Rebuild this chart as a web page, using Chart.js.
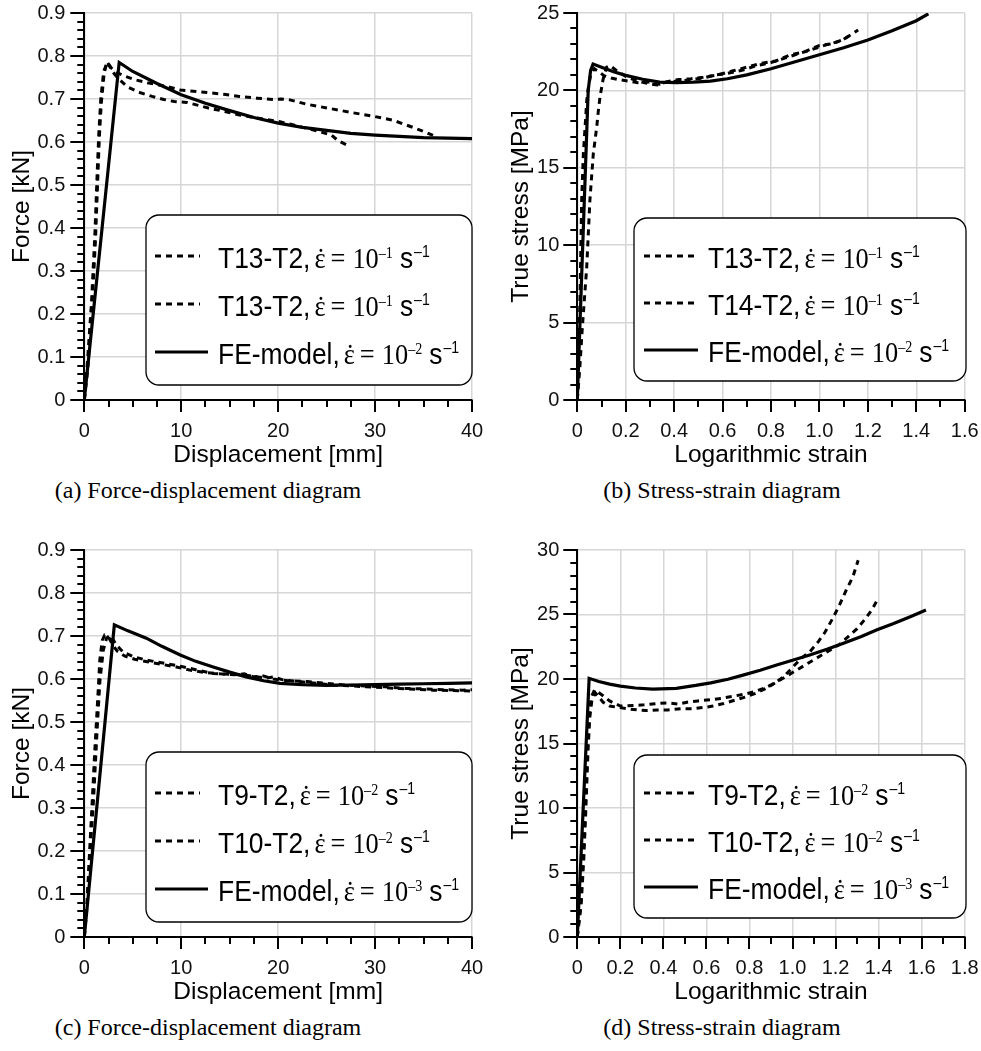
<!DOCTYPE html>
<html>
<head>
<meta charset="utf-8">
<script src="https://cdn.jsdelivr.net/npm/chart.js@4.4.1/dist/chart.umd.min.js"></script>
<style>
  body { margin: 0; background: #fff; width: 981px; height: 1051px; position: relative; overflow: hidden; }
  .panel { position: absolute; }
  .cap { position: absolute; text-align: center; font-family: 'Liberation Serif', 'Times New Roman', serif;
         font-size: 24px; line-height: 30px; color: #000; white-space: nowrap; }
</style>
</head>
<body>
<div class="panel" style="left:0;top:0"><canvas id="chartA" width="490" height="471"></canvas></div>
<div class="panel" style="left:490px;top:0"><canvas id="chartB" width="491" height="471"></canvas></div>
<div class="panel" style="left:0;top:537px"><canvas id="chartC" width="490" height="471"></canvas></div>
<div class="panel" style="left:490px;top:537px"><canvas id="chartD" width="491" height="471"></canvas></div>
<div class="cap" style="left:0;width:416px;top:475px">(a) Force-displacement diagram</div>
<div class="cap" style="left:490px;width:464px;top:475px">(b) Stress-strain diagram</div>
<div class="cap" style="left:0;width:416px;top:1012px">(c) Force-displacement diagram</div>
<div class="cap" style="left:490px;width:464px;top:1012px">(d) Stress-strain diagram</div>
<script>
// ---- (a) force-displacement, strain rate 10^-1
const aXTicks = [0, 10, 20, 30, 40];
const aYTicks = [0, 0.1, 0.2, 0.3, 0.4, 0.5, 0.6, 0.7, 0.8, 0.9];
const aLabels = ['T13-T2', 'T13-T2', 'FE-model'];
const aRates = ['–1', '–1', '–2'];
const aUpperX = [0, 0.3, 0.75, 1.1, 1.35, 1.5, 1.7, 2.0, 2.4, 2.8, 3.3, 4.1, 5.2, 6.5, 7.6, 8.7, 9.9, 11.8, 14.4, 16.0, 17.8, 19.5, 20.3, 21.2, 22.9, 25.3, 27.7, 29.8, 31.8, 33.9, 35.3, 36.3];
const aUpperY = [0, 0.08, 0.23, 0.39, 0.54, 0.62, 0.70, 0.765, 0.785, 0.772, 0.762, 0.754, 0.745, 0.738, 0.733, 0.728, 0.721, 0.717, 0.711, 0.706, 0.702, 0.699, 0.700, 0.698, 0.688, 0.678, 0.668, 0.660, 0.651, 0.634, 0.622, 0.612];
const aLowerX = [0, 0.35, 0.8, 1.15, 1.4, 1.55, 1.75, 2.05, 2.35, 2.9, 3.4, 4.4, 5.6, 7.0, 8.2, 9.3, 10.6, 12.8, 14.5, 16.0, 17.5, 18.8, 20.2, 21.5, 22.9, 24.6, 25.5, 26.2, 27.0];
const aLowerY = [0, 0.07, 0.22, 0.37, 0.52, 0.61, 0.69, 0.76, 0.787, 0.764, 0.750, 0.729, 0.716, 0.706, 0.699, 0.694, 0.692, 0.679, 0.671, 0.663, 0.657, 0.652, 0.647, 0.640, 0.632, 0.622, 0.616, 0.603, 0.594];
const aFeX = [0, 3.6, 5, 7.5, 10, 12.5, 15, 17.5, 20, 22.5, 25, 27.5, 30, 32.5, 35, 37.5, 40];
const aFeY = [0, 0.785, 0.764, 0.736, 0.710, 0.690, 0.673, 0.657, 0.644, 0.634, 0.627, 0.620, 0.616, 0.613, 0.610, 0.609, 0.608];

// ---- (b) stress-strain, strain rate 10^-1
const bXTicks = [0, 0.2, 0.4, 0.6, 0.8, 1, 1.2, 1.4, 1.6];
const bYTicks = [0, 5, 10, 15, 20, 25];
const bLabels = ['T13-T2', 'T14-T2', 'FE-model'];
const bRates = ['–1', '–1', '–2'];
const bT13X = [0, 0.004, 0.011, 0.018, 0.025, 0.032, 0.039, 0.045, 0.055, 0.07, 0.09, 0.11, 0.14, 0.17, 0.21, 0.25, 0.3, 0.34, 0.38, 0.42, 0.47, 0.52, 0.58, 0.64, 0.7, 0.76, 0.82, 0.88, 0.94, 1.0, 1.05, 1.1, 1.16];
const bT13Y = [0, 2.2, 6.4, 12.9, 15.9, 17.6, 19.35, 20.1, 21.0, 21.4, 21.2, 20.95, 20.8, 20.7, 20.6, 20.5, 20.55, 20.4, 20.6, 20.7, 20.75, 20.85, 21.0, 21.25, 21.5, 21.75, 21.9, 22.3, 22.5, 22.9, 23.0, 23.3, 23.9];
const bT14X = [0, 0.01, 0.02, 0.039, 0.052, 0.066, 0.08, 0.087, 0.094, 0.107, 0.121, 0.135, 0.16, 0.2, 0.25, 0.29, 0.33, 0.37, 0.42, 0.47, 0.52, 0.57, 0.62, 0.68, 0.74, 0.8, 0.86, 0.92, 0.98, 1.04, 1.09, 1.13];
const bT14Y = [0, 2, 4.5, 8.6, 12.9, 15.9, 17.6, 18.7, 19.6, 20.75, 21.5, 21.6, 21.3, 20.9, 20.6, 20.45, 20.35, 20.55, 20.6, 20.7, 20.8, 21.0, 21.1, 21.3, 21.6, 21.8, 22.1, 22.4, 22.7, 23.0, 23.2, 23.6];
const bFeX = [0, 0.045, 0.055, 0.065, 0.1, 0.15, 0.2, 0.27, 0.34, 0.41, 0.48, 0.55, 0.62, 0.7, 0.8, 0.9, 1.0, 1.1, 1.2, 1.3, 1.4, 1.45];
const bFeY = [0, 20.0, 21.3, 21.7, 21.5, 21.2, 20.97, 20.72, 20.54, 20.5, 20.53, 20.6, 20.75, 21.0, 21.4, 21.85, 22.3, 22.75, 23.25, 23.85, 24.5, 24.95];

// ---- (c) force-displacement, strain rate 10^-2
const cXTicks = [0, 10, 20, 30, 40];
const cYTicks = [0, 0.1, 0.2, 0.3, 0.4, 0.5, 0.6, 0.7, 0.8, 0.9];
const cLabels = ['T9-T2', 'T10-T2', 'FE-model'];
const cRates = ['–2', '–2', '–3'];
const cT9X = [0, 0.31, 0.59, 0.93, 1.2, 1.38, 1.62, 1.96, 2.3, 2.7, 3.3, 4.0, 5.05, 6.4, 8.1, 9.9, 11.6, 13.3, 15.0, 16.7, 17.5, 18.8, 19.5, 20.5, 22.2, 24.0, 25.7, 27.5, 29.1, 30.8, 32.5, 34.2, 36.0, 38.0, 40.0];
const cT9Y = [0, 0.079, 0.195, 0.311, 0.428, 0.505, 0.598, 0.667, 0.695, 0.702, 0.679, 0.663, 0.652, 0.644, 0.637, 0.630, 0.621, 0.613, 0.611, 0.609, 0.606, 0.602, 0.605, 0.598, 0.594, 0.590, 0.586, 0.584, 0.582, 0.580, 0.578, 0.576, 0.574, 0.573, 0.572];
const cT10X = [0, 0.28, 0.55, 0.85, 1.05, 1.2, 1.45, 1.6, 1.85, 2.1, 2.5, 2.9, 3.4, 4.2, 5.2, 6.5, 8.0, 9.5, 11.0, 12.5, 14.0, 15.5, 16.5, 17.5, 18.5, 19.5, 21, 23, 25, 27, 29, 31, 33, 35, 37, 39, 40];
const cT10Y = [0, 0.08, 0.2, 0.33, 0.42, 0.48, 0.58, 0.644, 0.69, 0.702, 0.698, 0.68, 0.665, 0.653, 0.646, 0.640, 0.634, 0.628, 0.620, 0.615, 0.612, 0.610, 0.612, 0.605, 0.607, 0.600, 0.596, 0.594, 0.590, 0.586, 0.584, 0.582, 0.578, 0.577, 0.575, 0.574, 0.575];
const cFeX = [0, 3.1, 4.5, 6.4, 8.0, 9.9, 11.5, 13.3, 15.0, 16.7, 18.5, 20.2, 22.5, 25, 27.5, 30, 32.5, 35, 37.5, 40];
const cFeY = [0, 0.726, 0.712, 0.695, 0.676, 0.656, 0.641, 0.628, 0.616, 0.605, 0.596, 0.590, 0.587, 0.585, 0.586, 0.587, 0.588, 0.589, 0.590, 0.591];

// ---- (d) stress-strain, strain rate 10^-2
const dXTicks = [0, 0.2, 0.4, 0.6, 0.8, 1, 1.2, 1.4, 1.6, 1.8];
const dYTicks = [0, 5, 10, 15, 20, 25, 30];
const dLabels = ['T9-T2', 'T10-T2', 'FE-model'];
const dRates = ['–2', '–2', '–3'];
const dT9X = [0, 0.015, 0.025, 0.035, 0.045, 0.055, 0.065, 0.08, 0.095, 0.115, 0.15, 0.2, 0.26, 0.31, 0.37, 0.42, 0.47, 0.51, 0.56, 0.62, 0.67, 0.72, 0.77, 0.82, 0.87, 0.92, 0.96, 1.0, 1.04, 1.08, 1.12, 1.15, 1.19, 1.22, 1.25, 1.28, 1.305];
const dT9Y = [0, 2.5, 5.5, 9, 14, 17.3, 18.6, 19.15, 19.0, 18.76, 18.3, 17.9, 17.95, 18.0, 18.1, 18.15, 18.05, 18.2, 18.3, 18.4, 18.5, 18.65, 18.8, 19.0, 19.3, 19.7, 20.2, 20.9, 21.6, 22.1, 22.9, 23.6, 24.8, 25.8, 26.9, 27.9, 29.2];
const dT10X = [0, 0.018, 0.03, 0.04, 0.05, 0.058, 0.068, 0.085, 0.1, 0.12, 0.15, 0.19, 0.23, 0.28, 0.32, 0.37, 0.42, 0.48, 0.54, 0.59, 0.63, 0.68, 0.73, 0.78, 0.83, 0.88, 0.93, 0.98, 1.03, 1.08, 1.13, 1.17, 1.22, 1.26, 1.3, 1.34, 1.37, 1.39];
const dT10Y = [0, 2.5, 6, 10, 14.5, 17, 18.4, 18.9, 18.6, 18.2, 17.9, 17.8, 17.7, 17.6, 17.55, 17.6, 17.6, 17.7, 17.7, 17.8, 17.9, 18.1, 18.35, 18.6, 18.9, 19.3, 19.8, 20.3, 20.8, 21.3, 21.8, 22.2, 22.7, 23.3, 23.9, 24.7, 25.4, 26.0];
const dFeX = [0, 0.055, 0.1, 0.15, 0.2, 0.27, 0.35, 0.46, 0.55, 0.62, 0.7, 0.77, 0.85, 0.93, 1.0, 1.08, 1.16, 1.24, 1.32, 1.39, 1.47, 1.55, 1.62];
const dFeY = [0, 20.05, 19.8, 19.6, 19.45, 19.3, 19.22, 19.28, 19.5, 19.7, 19.98, 20.3, 20.68, 21.1, 21.45, 21.86, 22.3, 22.8, 23.3, 23.8, 24.3, 24.85, 25.35];

const SANS = "'Liberation Sans', Arial, sans-serif";
const SERIF = "'Liberation Serif', 'Times New Roman', serif";

function pts(xs, ys){
    return xs.map(function(x, i){ return {x: x, y: ys[i]}; });
}

function isMajor(v, step){
    return Math.abs(v / step - Math.round(v / step)) < 1e-6;
}

// scales must not reserve extra room for labels, the chart area is fixed by layout padding
function noScalePadding(s){
    s.paddingTop = 0;
    s.paddingBottom = 0;
    s.paddingLeft = 0;
    s.paddingRight = 0;
}

// outward major/minor tick marks on both axes
const axisTicks = {
    id: 'axisTicks',
    afterDraw: function(chart, args, o){
        const ctx = chart.ctx, a = chart.chartArea;
        const xs = chart.scales.x, ys = chart.scales.y;
        ctx.save();
        ctx.strokeStyle = '#000';
        ctx.lineWidth = 2;
        ctx.beginPath();
        let n = Math.round((xs.max - xs.min) / o.xMinor);
        for(let i = 0; i <= n; i++){
            const v = xs.min + i * o.xMinor;
            const px = Math.round(xs.getPixelForValue(v));
            ctx.moveTo(px, a.bottom);
            ctx.lineTo(px, a.bottom + (isMajor(v, o.xMajor) ? 12 : 7));
        }
        n = Math.round((ys.max - ys.min) / o.yMinor);
        for(let i = 0; i <= n; i++){
            const v = ys.min + i * o.yMinor;
            const py = Math.round(ys.getPixelForValue(v));
            ctx.moveTo(a.left, py);
            ctx.lineTo(a.left - (isMajor(v, o.yMajor) ? 14 : 7), py);
        }
        ctx.stroke();
        ctx.restore();
    }
};

// legend with "T13-T2, ε̇ = 10^-1 s^-1" style entries
const rateLegend = {
    id: 'rateLegend',
    afterDatasetsDraw: function(chart, args, o){
        const ctx = chart.ctx;
        const b = o.box;
        ctx.save();
        ctx.beginPath();
        ctx.roundRect(b[0], b[1], b[2] - b[0], b[3] - b[1], 13);
        ctx.fillStyle = '#fff';
        ctx.fill();
        ctx.lineWidth = 1.3;
        ctx.strokeStyle = '#000';
        ctx.stroke();

        const fonts = {
            sans: '30px ' + SANS, serif: '30px ' + SERIF,
            serifSup: '16px ' + SERIF, sansSup: '16px ' + SANS
        };
        const rise = {serifSup: 10, sansSup: 11};
        const squeeze = 0.88;

        chart.data.datasets.forEach(function(ds, i){
            const y = o.rows[i];
            const dashed = ds.borderDash && ds.borderDash.length;
            ctx.beginPath();
            ctx.setLineDash(dashed ? ds.borderDash : []);
            ctx.lineWidth = ds.borderWidth;
            ctx.strokeStyle = '#000';
            ctx.moveTo(o.sample[0], y);
            ctx.lineTo(dashed ? o.sample[1] : o.sample[2], y);
            ctx.stroke();
            ctx.setLineDash([]);

            const segs = [
                {t: ds.label + ',', f: 'sans', gap: 4},
                {t: 'ε', f: 'serif', gap: 5, dot: true},
                {t: '=', f: 'serif', gap: 7},
                {t: '10', f: 'serif', gap: 0},
                {t: o.rates[i], f: 'serifSup', gap: 7},
                {t: 's', f: 'sans', gap: 1},
                {t: '–1', f: 'sansSup', gap: 0}
            ];
            let x = o.textX;
            const base = y + 12;
            ctx.fillStyle = '#000';
            ctx.textBaseline = 'alphabetic';
            segs.forEach(function(s){
                ctx.font = fonts[s.f];
                const w = ctx.measureText(s.t).width;
                ctx.save();
                ctx.translate(x, base - (rise[s.f] || 0));
                ctx.scale(squeeze, 1);
                ctx.textAlign = 'left';
                ctx.fillText(s.t, 0, 0);
                if(s.dot){
                    ctx.textAlign = 'center';
                    ctx.fillText('\u02D9', w / 2 + 1, 1);
                }
                ctx.restore();
                x += w * squeeze + s.gap;
            });
        });
        ctx.restore();
    }
};

function makeChart(id, p){
    const dash = [6, 5];
    return new Chart(document.getElementById(id), {
        type: 'line',
        data: {
            datasets: p.series.map(function(s, i){
                return {
                    label: p.labels[i],
                    data: pts(s[0], s[1]),
                    borderColor: '#000',
                    borderWidth: i === 2 ? 3.2 : 3,
                    borderDash: i === 2 ? [] : dash,
                    pointRadius: 0,
                    fill: false,
                    tension: 0
                };
            })
        },
        plugins: [axisTicks, rateLegend],
        options: {
            responsive: false,
            animation: false,
            events: [],
            layout: {padding: {top: 13, right: p.padRight, left: 0, bottom: 0}},
            plugins: {
                legend: {display: false},
                tooltip: {enabled: false},
                axisTicks: {xMinor: p.xMinor, xMajor: p.xTicks[1], yMinor: p.yMinor, yMajor: p.yTicks[1]},
                rateLegend: {box: p.box, rows: p.rows, sample: p.sample, textX: p.textX, rates: p.rates}
            },
            scales: {
                x: {
                    type: 'linear',
                    min: p.xTicks[0],
                    max: p.xTicks[p.xTicks.length - 1],
                    afterBuildTicks: function(s){ s.ticks = p.xTicks.map(function(v){ return {value: v}; }); },
                    afterFit: function(s){ s.height = 71; noScalePadding(s); },
                    grid: {color: '#d6d6d6', lineWidth: 1.5, drawTicks: false},
                    border: {display: true, color: '#000', width: 2},
                    ticks: {color: '#111', font: {family: SANS, size: 20}, padding: 19, autoSkip: false, maxRotation: 0},
                    title: {display: true, text: p.xTitle, color: '#000', font: {family: SANS, size: 24.5}, padding: {top: 0, bottom: 1}}
                },
                y: {
                    type: 'linear',
                    min: p.yTicks[0],
                    max: p.yTicks[p.yTicks.length - 1],
                    afterBuildTicks: function(s){ s.ticks = p.yTicks.map(function(v){ return {value: v}; }); },
                    afterFit: function(s){ s.width = p.yWidth; noScalePadding(s); },
                    grid: {color: '#d6d6d6', lineWidth: 1.5, drawTicks: false},
                    border: {display: true, color: '#000', width: 2},
                    ticks: {color: '#111', font: {family: SANS, size: 20}, padding: p.yPad},
                    title: {display: true, text: p.yTitle, color: '#000', font: {family: SANS, size: 24.5}, padding: {top: p.yTitlePad, bottom: 0}}
                }
            }
        }
    });
}

makeChart('chartA', {
    series: [[aUpperX, aUpperY], [aLowerX, aLowerY], [aFeX, aFeY]],
    labels: aLabels, rates: aRates, xTicks: aXTicks, yTicks: aYTicks,
    xTitle: 'Displacement [mm]', yTitle: 'Force [kN]',
    xMinor: 2.5, yMinor: 0.02,
    yWidth: 84.3, padRight: 18, yPad: 19, yTitlePad: 8,
    box: [146, 215, 472, 385], rows: [256, 304, 352], sample: [155, 200, 208], textX: 218
});
makeChart('chartB', {
    series: [[bT13X, bT13Y], [bT14X, bT14Y], [bFeX, bFeY]],
    labels: bLabels, rates: bRates, xTicks: bXTicks, yTicks: bYTicks,
    xTitle: 'Logarithmic strain', yTitle: 'True stress [MPa]',
    xMinor: 0.1, yMinor: 1,
    yWidth: 87.3, padRight: 16.3, yPad: 18, yTitlePad: 17,
    box: [144, 218, 476, 381], rows: [256, 303, 350], sample: [154, 208, 208], textX: 218
});
makeChart('chartC', {
    series: [[cT9X, cT9Y], [cT10X, cT10Y], [cFeX, cFeY]],
    labels: cLabels, rates: cRates, xTicks: cXTicks, yTicks: cYTicks,
    xTitle: 'Displacement [mm]', yTitle: 'Force [kN]',
    xMinor: 2.5, yMinor: 0.02,
    yWidth: 84.3, padRight: 18, yPad: 19, yTitlePad: 8,
    box: [146, 215, 472, 385], rows: [256, 304, 352], sample: [155, 200, 208], textX: 218
});
makeChart('chartD', {
    series: [[dT9X, dT9Y], [dT10X, dT10Y], [dFeX, dFeY]],
    labels: dLabels, rates: dRates, xTicks: dXTicks, yTicks: dYTicks,
    xTitle: 'Logarithmic strain', yTitle: 'True stress [MPa]',
    xMinor: 0.1, yMinor: 1,
    yWidth: 87.3, padRight: 16.3, yPad: 18, yTitlePad: 17,
    box: [144, 218, 476, 381], rows: [256, 303, 350], sample: [154, 208, 208], textX: 218
});
</script>
</body>
</html>
